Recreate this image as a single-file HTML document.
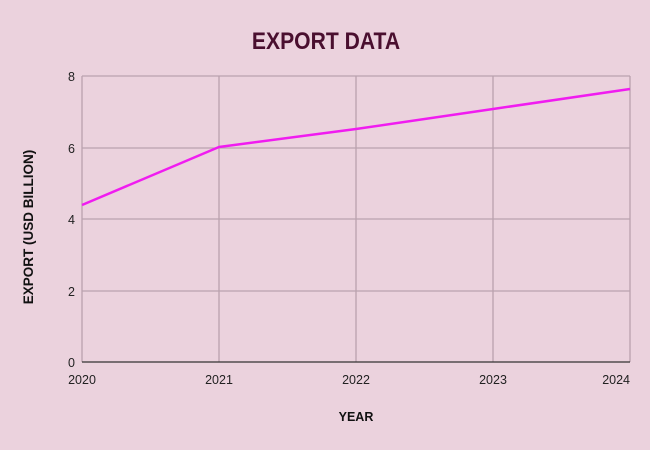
<!DOCTYPE html>
<html><head><style>
html,body{margin:0;padding:0;background:#ebd2dd;}
</style></head><body>
<svg width="650" height="450" xmlns="http://www.w3.org/2000/svg" style="display:block">
<rect width="650" height="450" fill="#ebd2dd"/>
<text x="326" y="49" text-anchor="middle" font-family="Liberation Sans, sans-serif" font-weight="bold" font-size="24" fill="#4a0f2f" transform="translate(326 0) scale(0.88 1) translate(-326 0)">EXPORT DATA</text>
<g stroke="#baa2ae" stroke-width="1.3" fill="none">
<line x1="82" y1="76" x2="630" y2="76"/>
<line x1="82" y1="148" x2="630" y2="148"/>
<line x1="82" y1="219" x2="630" y2="219"/>
<line x1="82" y1="291" x2="630" y2="291"/>
<line x1="82" y1="76" x2="82" y2="362"/>
<line x1="219" y1="76" x2="219" y2="362"/>
<line x1="356" y1="76" x2="356" y2="362"/>
<line x1="493" y1="76" x2="493" y2="362"/>
<line x1="630" y1="76" x2="630" y2="362"/>
</g>
<line x1="82" y1="362" x2="630" y2="362" stroke="#333" stroke-width="1.3"/>
<g font-family="Liberation Sans, sans-serif" font-size="12.5" fill="#222">
<text x="75" y="81" text-anchor="end">8</text>
<text x="75" y="153" text-anchor="end">6</text>
<text x="75" y="224" text-anchor="end">4</text>
<text x="75" y="296" text-anchor="end">2</text>
<text x="75" y="367" text-anchor="end">0</text>
<text x="82" y="384" text-anchor="middle">2020</text>
<text x="219" y="384" text-anchor="middle">2021</text>
<text x="356" y="384" text-anchor="middle">2022</text>
<text x="493" y="384" text-anchor="middle">2023</text>
<text x="630" y="384" text-anchor="end">2024</text>
</g>
<text x="356" y="421" text-anchor="middle" font-family="Liberation Sans, sans-serif" font-weight="bold" font-size="12.5" fill="#111">YEAR</text>
<text transform="translate(33 227) rotate(-90)" text-anchor="middle" font-family="Liberation Sans, sans-serif" font-weight="bold" font-size="13.5" fill="#111">EXPORT (USD BILLION)</text>
<polyline points="82,205 219,147 356,129 493,109 630,89" fill="none" stroke="#f01cf0" stroke-width="2.5" stroke-linejoin="round"/>
</svg>
</body></html>
